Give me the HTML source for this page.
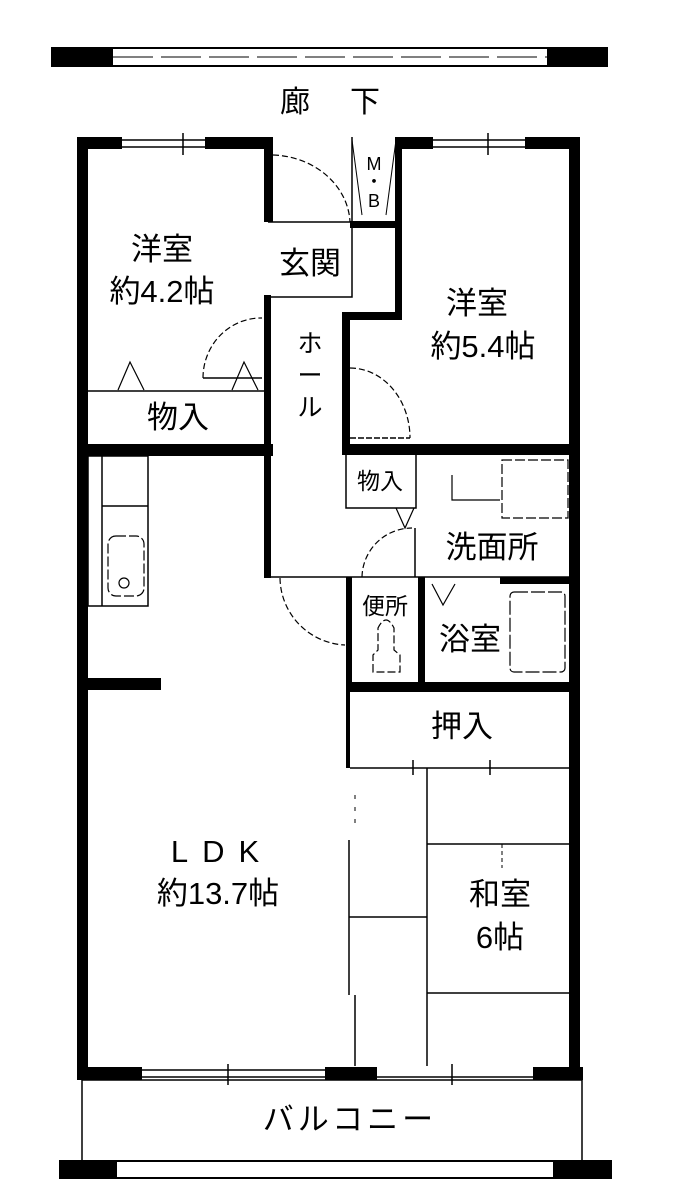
<!DOCTYPE html>
<html><head><meta charset="utf-8"><style>
html,body{margin:0;padding:0;background:#fff;}
svg{display:block;}
text{font-family:"Liberation Sans","Noto Sans CJK JP",sans-serif;fill:#000;}
</style></head><body>
<svg width="695" height="1200" viewBox="0 0 695 1200" xmlns="http://www.w3.org/2000/svg">
<rect width="695" height="1200" fill="#fff"/>
<rect x="52" y="48" width="555" height="18" fill="#fff" stroke="#000" stroke-width="2"/>
<rect x="52" y="48" width="61" height="18" fill="#000"/>
<rect x="547" y="48" width="60" height="18" fill="#000"/>
<line x1="113" y1="57" x2="547" y2="57" stroke="#000" stroke-width="1" stroke-dasharray="40 8"/>
<text x="280" y="112" font-size="30">廊</text><text x="350" y="112" font-size="30">下</text>

<g fill="#000">
<rect x="77" y="137" width="11" height="943"/>
<rect x="77" y="137" width="45" height="12"/>
<rect x="205" y="137" width="68" height="12"/>
<rect x="264" y="137" width="9" height="85"/>
<rect x="395" y="137" width="38" height="12"/>
<rect x="525" y="137" width="55" height="12"/>
<rect x="569" y="137" width="11" height="943"/>
<rect x="350" y="221" width="52" height="7"/>
<rect x="395" y="137" width="7" height="183"/>
<rect x="342" y="312" width="60" height="8"/>
<rect x="342" y="312" width="8" height="134"/>
<rect x="264" y="295" width="7" height="283"/>
<rect x="77" y="444" width="196" height="12"/>
<rect x="342" y="444" width="238" height="11"/>
<rect x="346" y="577" width="6" height="115"/>
<rect x="418" y="577" width="7" height="110"/>
<rect x="500" y="577" width="75" height="7"/>
<rect x="346" y="682" width="234" height="10"/>
<rect x="346" y="692" width="4" height="76"/>
<rect x="77" y="678" width="84" height="12"/>
<rect x="77" y="1067" width="65" height="13"/>
<rect x="325" y="1067" width="52" height="13"/>
<rect x="533" y="1067" width="50" height="13"/>
</g>
<g fill="none" stroke="#000" stroke-width="1.5">
<line x1="122" y1="140" x2="205" y2="140"/><line x1="122" y1="147" x2="205" y2="147"/>
<line x1="183" y1="133" x2="183" y2="155"/>
<line x1="433" y1="140" x2="525" y2="140"/><line x1="433" y1="147" x2="525" y2="147"/>
<line x1="488" y1="133" x2="488" y2="155"/>
<line x1="142" y1="1070" x2="325" y2="1070"/><line x1="142" y1="1077" x2="325" y2="1077"/>
<line x1="228" y1="1064" x2="228" y2="1085"/>
<line x1="377" y1="1077" x2="533" y2="1077"/>
<line x1="452" y1="1064" x2="452" y2="1085"/>
<polyline points="268,222 352,222 352,297 268,297"/>
<line x1="352" y1="137" x2="352" y2="222"/>
<line x1="352" y1="140" x2="362" y2="215" stroke-width="1"/><line x1="396" y1="140" x2="386" y2="215" stroke-width="1"/>
<path d="M273,155 A80,70 0 0 1 350,222" stroke-dasharray="6 3" stroke-width="1.2"/>
<line x1="88" y1="391" x2="264" y2="391"/>
<path d="M118,390 L130,362 L144,390 M232,390 L244,362 L258,390" stroke-width="1.2"/>
<path d="M203,378 A58,60 0 0 1 262,318" stroke-dasharray="6 3" stroke-width="1.2"/>
<line x1="203" y1="378" x2="262" y2="378"/>
<path d="M350,368 A60,70 0 0 1 410,438" stroke-dasharray="6 3" stroke-width="1.2"/>
<line x1="350" y1="438" x2="410" y2="438" stroke-dasharray="6 2"/>
<polyline points="346,455 346,508 416,508 416,455"/>
<path d="M396,508 L405,528 L414,508" stroke-width="1.2"/>
<path d="M362,577 A50,50 0 0 1 412,528" stroke-dasharray="6 3" stroke-width="1.2"/>
<line x1="415" y1="528" x2="415" y2="577"/>
<rect x="502" y="460" width="66" height="58" stroke-dasharray="10 3" stroke-width="1.2"/>
<polyline points="452,475 452,500 500,500" stroke-width="1.2"/>
<line x1="265" y1="577" x2="570" y2="577"/>
<path d="M280,578 A68,68 0 0 0 345,645" stroke-dasharray="6 3" stroke-width="1.2"/>
<path d="M432,584 L443,605 L455,584" stroke-width="1.2"/>
<rect x="510" y="592" width="55" height="80" rx="4" stroke-dasharray="14 3" stroke-width="1.2"/>
<path d="M373,672 L373,655 L378,650 L378,628 Q386,612 394,628 L394,650 L400,655 L400,672 Z" stroke-dasharray="8 3" stroke-width="1.2"/>
<rect x="88" y="456" width="60" height="150"/>
<line x1="102" y1="456" x2="102" y2="606"/>
<line x1="102" y1="506" x2="148" y2="506"/>
<rect x="108" y="536" width="36" height="60" rx="8" stroke-dasharray="10 3" stroke-width="1.2"/>
<circle cx="124" cy="583" r="5" stroke-width="1.2"/>
<line x1="350" y1="768" x2="572" y2="768"/>
<line x1="413" y1="760" x2="413" y2="775"/><line x1="490" y1="760" x2="490" y2="775"/>
<line x1="427" y1="768" x2="427" y2="1066"/>
<line x1="427" y1="844" x2="572" y2="844"/>
<line x1="427" y1="993" x2="572" y2="993"/>
<line x1="502" y1="844" x2="502" y2="868" stroke-dasharray="4 3" stroke-width="1"/>
<line x1="349" y1="840" x2="349" y2="995"/>
<line x1="355" y1="995" x2="355" y2="1066"/>
<line x1="349" y1="917" x2="427" y2="917"/>
<line x1="355" y1="795" x2="355" y2="830" stroke-dasharray="4 8" stroke-width="1"/>
<line x1="82" y1="1080" x2="82" y2="1161"/>
<line x1="582" y1="1080" x2="582" y2="1161"/>
<line x1="82" y1="1080" x2="582" y2="1080"/>
</g>
<rect x="60" y="1161" width="551" height="17" fill="#fff" stroke="#000" stroke-width="2"/>
<rect x="60" y="1161" width="57" height="17" fill="#000"/>
<rect x="553" y="1161" width="58" height="17" fill="#000"/>

<g font-size="31">
<text x="162" y="260" text-anchor="middle">洋室</text>
<text x="162" y="302" text-anchor="middle">約4.2帖</text>
<text x="310" y="274" text-anchor="middle">玄関</text>
<text x="477" y="314" text-anchor="middle">洋室</text>
<text x="483" y="357" text-anchor="middle">約5.4帖</text>
<text x="178" y="428" text-anchor="middle">物入</text>
<text x="492" y="558" text-anchor="middle">洗面所</text>
<text x="470" y="650" text-anchor="middle">浴室</text>
<text x="462" y="737" text-anchor="middle">押入</text>
<text x="222" y="862" text-anchor="middle" letter-spacing="14">LDK</text>
<text x="218" y="904" text-anchor="middle">約13.7帖</text>
<text x="500" y="905" text-anchor="middle">和室</text>
<text x="500" y="948" text-anchor="middle">6帖</text>
<text x="350" y="1130" text-anchor="middle" letter-spacing="4">バルコニー</text>
</g>
<g font-size="23">
<text x="380" y="489" text-anchor="middle">物入</text>
<text x="385" y="614" text-anchor="middle">便所</text>
</g>
<g font-size="25">
<text x="310" y="352" text-anchor="middle">ホ</text>
<text x="310" y="384" text-anchor="middle">ー</text>
<text x="310" y="416" text-anchor="middle">ル</text>
</g>
<g font-size="18">
<text x="374" y="170" text-anchor="middle">M</text>
<text x="374" y="188" text-anchor="middle">・</text>
<text x="374" y="207" text-anchor="middle">B</text>
</g>
</svg>
</body></html>
